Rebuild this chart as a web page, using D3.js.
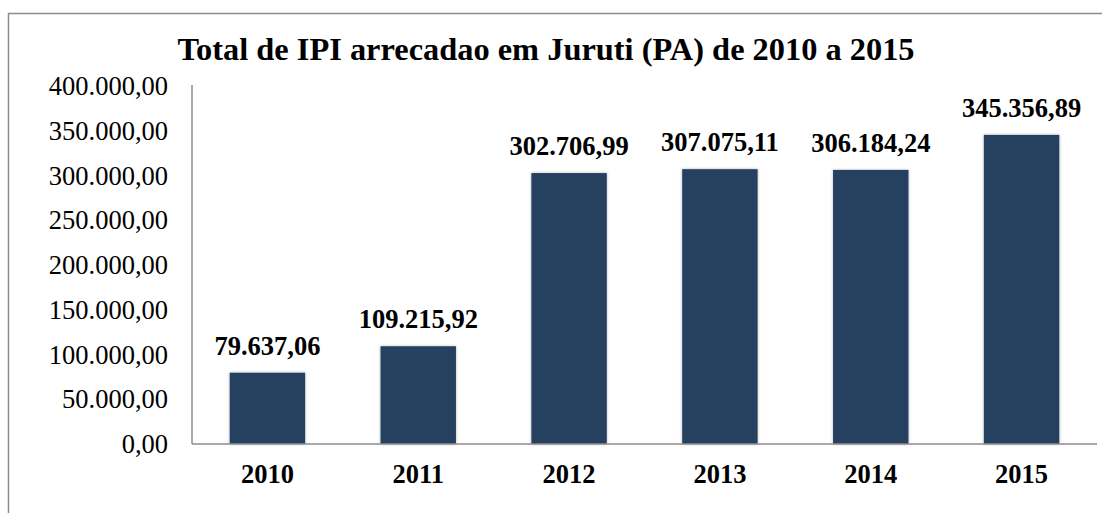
<!DOCTYPE html>
<html>
<head>
<meta charset="utf-8">
<script src="https://cdn.jsdelivr.net/npm/d3@7"></script>
<style>
  html, body { margin: 0; padding: 0; background: #fff; }
  svg { display: block; }
</style>
</head>
<body>
<svg id="chart" width="1102" height="513"></svg>
<script>
// Annual IPI collected in Juruti (PA)
const years = ["2010", "2011", "2012", "2013", "2014", "2015"];
const values = [79637.06, 109215.92, 302706.99, 307075.11, 306184.24, 345356.89];
const yTicks = [0, 50000, 100000, 150000, 200000, 250000, 300000, 350000, 400000];
const title = "Total de IPI arrecadao em Juruti (PA) de 2010 a 2015";

const svg = d3.select("#chart");
const font = "'Liberation Serif', 'Times New Roman', serif";

// pt-BR number format: 345.356,89
const fmt = d3.formatLocale({ decimal: ",", thousands: ".", grouping: [3], currency: ["R$", ""] }).format(",.2f");

const plot = { left: 192, right: 1097, top: 86, bottom: 444 };

// outer frame (right and bottom edges fall outside the canvas)
svg.append("path")
  .attr("d", `M1110,13.5 H8.5 V520`)
  .attr("fill", "none")
  .attr("stroke", "#8c8c8c")
  .attr("stroke-width", 1.5);

const x = d3.scaleBand().domain(years).range([plot.left, plot.right]).paddingInner(0.5).paddingOuter(0.25);
const y = d3.scaleLinear().domain([0, 400000]).range([plot.bottom, plot.top]);

// soft shadow around bars
const defs = svg.append("defs");
const f = defs.append("filter").attr("id", "shadow").attr("x", "-20%").attr("y", "-20%").attr("width", "140%").attr("height", "140%");
f.append("feDropShadow").attr("dx", 0).attr("dy", 0).attr("stdDeviation", 1.6).attr("flood-color", "#000").attr("flood-opacity", 0.3);

// bars
svg.append("g").selectAll("rect")
  .data(values)
  .join("rect")
  .attr("x", (d, i) => x(years[i]))
  .attr("y", d => y(d))
  .attr("width", x.bandwidth())
  .attr("height", d => y(0) - y(d))
  .attr("fill", "#264061")
  .attr("filter", "url(#shadow)");

// axes lines
svg.append("line")
  .attr("x1", plot.left).attr("x2", plot.left)
  .attr("y1", plot.top - 1).attr("y2", plot.bottom)
  .attr("stroke", "#8c8c8c").attr("stroke-width", 1.5);
svg.append("line")
  .attr("x1", plot.left).attr("x2", plot.right)
  .attr("y1", plot.bottom).attr("y2", plot.bottom)
  .attr("stroke", "#8c8c8c").attr("stroke-width", 1.5);

// y tick labels
svg.append("g").selectAll("text")
  .data(yTicks)
  .join("text")
  .attr("x", 168)
  .attr("y", d => y(d))
  .attr("dy", "0.34em")
  .attr("text-anchor", "end")
  .attr("font-family", font)
  .attr("font-size", 26.5)
  .attr("fill", "#000")
  .text(d => fmt(d));

// x category labels
svg.append("g").selectAll("text")
  .data(years)
  .join("text")
  .attr("x", d => x(d) + x.bandwidth() / 2)
  .attr("y", 483)
  .attr("text-anchor", "middle")
  .attr("font-family", font)
  .attr("font-weight", "bold")
  .attr("font-size", 26.5)
  .attr("fill", "#000")
  .text(d => d);

// value labels
svg.append("g").selectAll("text")
  .data(values)
  .join("text")
  .attr("x", (d, i) => x(years[i]) + x.bandwidth() / 2)
  .attr("y", d => y(d) - 18)
  .attr("text-anchor", "middle")
  .attr("font-family", font)
  .attr("font-weight", "bold")
  .attr("font-size", 26.5)
  .attr("fill", "#000")
  .text(d => fmt(d));

// title
svg.append("text")
  .attr("x", 546)
  .attr("y", 60)
  .attr("text-anchor", "middle")
  .attr("font-family", font)
  .attr("font-weight", "bold")
  .attr("font-size", 32.4)
  .attr("fill", "#000")
  .text(title);
</script>
</body>
</html>
